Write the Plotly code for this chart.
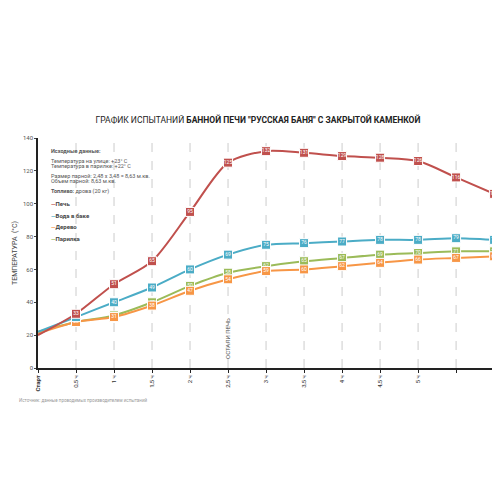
import plotly.graph_objects as go

# Данные испытаний
categories = ['<b>Старт</b>', '0,5 ч', '1 ч', '1,5 ч', '2 ч', '2,5 ч', '3 ч', '3,5 ч', '4 ч', '4,5 ч', '5 ч', '', '']
pech = [20, 33, 51, 65, 95, 125, 132, 131, 129, 128, 126, 116, 106]
voda = [22, 31, 40, 49, 60, 69, 75, 76, 77, 78, 78, 79, 78]
derevo = [21, 28, 31, 38, 47, 54, 59, 60, 62, 64, 66, 67, 68]
parilka = [22, 28, 32, 40, 50, 58, 62, 65, 67, 69, 70, 71, 71]

series = [
    ('Печь', pech, '#c0504d'),
    ('Вода в баке', voda, '#4bacc6'),
    ('Дерево', derevo, '#f79646'),
    ('Парилка', parilka, '#9bbb59'),
]

xs = list(range(len(categories)))
fig = go.Figure()

# vertical dashed guides
for x in xs[1:]:
    fig.add_vline(x=x, line=dict(color='#cccccc', width=1, dash='dash'), layer='below')

# draw lower series first so Печь stays on top
for name, vals, color in reversed(series):
    fig.add_trace(go.Scatter(
        x=xs, y=vals, mode='lines',
        line=dict(color=color, width=2, shape='spline', smoothing=0.8),
        hoverinfo='skip', showlegend=False, cliponaxis=False))
    fig.add_trace(go.Scatter(
        x=xs[1:], y=vals[1:], mode='markers+text',
        marker=dict(symbol='square', size=9, color=color, line=dict(color='#ffffff', width=1)),
        text=[str(v) for v in vals[1:]], textposition='middle center',
        textfont=dict(size=5, color='white', family='Roboto'),
        name=name, showlegend=False, cliponaxis=False))

font = 'Roboto'
notes = [
    ('<b>Исходные данные:</b>', 132),
    ('Температура на улице: +23° C', 126),
    ('Температура в парилке: +22° C', 123),
    ('Размер парной: 2,48 х 3,48 = 8,63 м.кв.', 117),
    ('Объем парной: 8,63 м.кв.', 114),
    ('<b>Топливо:</b> дрова (20 кг)', 107.5),
]
for txt, y in notes:
    fig.add_annotation(x=0.3, y=y, text=txt, showarrow=False, xanchor='left',
                       font=dict(size=5.5, color='#555555', family=font))

for i, (name, vals, color) in enumerate(series):
    y = 100 - i * 7
    fig.add_annotation(x=0.3, y=y, text=f'<span style="color:{color}"><b>—</b></span><b>{name}</b>',
                       showarrow=False, xanchor='left', font=dict(size=6, color='#444444', family=font))

fig.add_annotation(x=5, y=4, text='ОСТАЛИ ПЕЧЬ', textangle=-90, showarrow=False,
                   xanchor='center', yanchor='bottom', font=dict(size=6, color='#555555', family=font))

fig.add_annotation(xref='paper', yref='paper', x=-0.045, y=-0.12, xanchor='left', yanchor='top',
                   text='Источник: данные проводимых производителем испытаний',
                   showarrow=False, font=dict(size=4.5, color='#999999', family=font))

fig.update_layout(
    width=500, height=500,
    title=dict(text='ГРАФИК ИСПЫТАНИЙ <b>БАННОЙ ПЕЧИ "РУССКАЯ БАНЯ" С ЗАКРЫТОЙ КАМЕНКОЙ</b>',
               x=0.5, xanchor='center', y=0.775, yanchor='middle',
               font=dict(size=8.5, color='#222222', family=font)),
    margin=dict(l=30, r=12, t=130, b=140),
    plot_bgcolor='white', paper_bgcolor='white',
    xaxis=dict(tickvals=xs, ticktext=categories, tickangle=-90, range=[0, len(xs) - 1 + 0.05],
               automargin=False,
               showgrid=False, zeroline=False, showline=True, linecolor='#222222', linewidth=1.5,
               ticks='outside', ticklen=3, tickcolor='#222222',
               tickfont=dict(size=6, color='#333333', family=font)),
    yaxis=dict(range=[0, 140], dtick=20, showgrid=False, zeroline=False, automargin=False,
               showline=True, linecolor='#222222', linewidth=1.5, ticks='outside', ticklen=2,
               tickfont=dict(size=6, color='#555555', family=font),
               title=dict(text='ТЕМПЕРАТУРА  (°C)', font=dict(size=7, color='#444444', family=font), standoff=4)),
    showlegend=False,
)

fig.write_html('out.html')
